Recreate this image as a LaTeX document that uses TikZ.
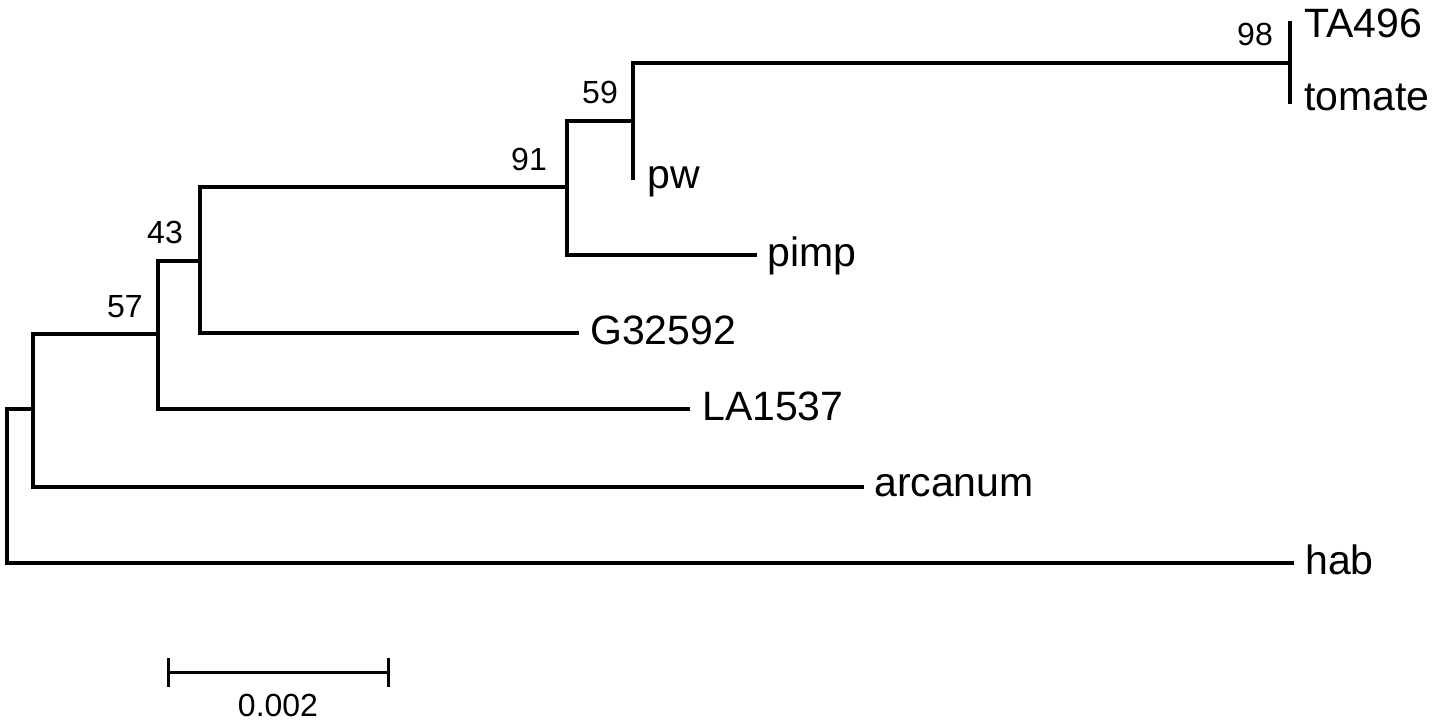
\documentclass[tikz,border=0pt]{standalone}
\usepackage{fontspec}
\setmainfont{Liberation Sans}
\begin{document}
\begin{tikzpicture}[x=1pt,y=-1pt,
  branch/.style={line width=3.6pt,line join=miter,line cap=rect},
  leaf/.style={anchor=base west,inner sep=0pt,font=\fontsize{41}{41}\selectfont},
  boot/.style={anchor=base east,inner sep=0pt,font=\fontsize{32}{32}\selectfont},
  scalelbl/.style={anchor=base,inner sep=0pt,font=\fontsize{32}{32}\selectfont}]
\useasboundingbox (0,0) rectangle (1437,726);
% branch tips / leaf ends
\coordinate (r) at (7,480);
\coordinate (n1) at (33,409);
\coordinate (n57) at (158,334);
\coordinate (n43) at (200,261);
\coordinate (n91) at (567,187);
\coordinate (n59) at (633,121);
\coordinate (n98) at (1290,63);
\coordinate (ta) at (1290,23);
\coordinate (tom) at (1290,102);
\coordinate (pwe) at (633,178);
\coordinate (pimpe) at (755,255);
\coordinate (ge) at (577,333);
\coordinate (lae) at (688,409);
\coordinate (arce) at (862,487);
\coordinate (habe) at (1292,563);
% tree
\draw[branch] (ta) -- (tom);
\draw[branch] (n98) -| (n59) |- (pwe);
\draw[branch] (n59) -| (n91) |- (pimpe);
\draw[branch] (n91) -| (n43) |- (ge);
\draw[branch] (n43) -| (n57) |- (lae);
\draw[branch] (n57) -| (n1) |- (arce);
\draw[branch] (n1) -| (r) |- (habe);
% leaf labels
\node[leaf] (lTA) at (1304,37) {TA496};
\node[leaf] (lTom) at (1304,110) {tomate};
\node[leaf] (lpw) at (647,188) {pw};
\node[leaf] (lpimp) at (767,266) {pimp};
\node[leaf] (lg) at (590,344) {G32592};
\node[leaf] (lla) at (702,420) {LA1537};
\node[leaf] (larc) at (874,496) {arcanum};
\node[leaf] (lhab) at (1305,574) {hab};
% bootstrap values
\node[boot] (b98) at (1273,45) {98};
\node[boot] (b59) at (618,103) {59};
\node[boot] (b91) at (547,170) {91};
\node[boot] (b43) at (183,243) {43};
\node[boot] (b57) at (143,317) {57};
% scale bar
\coordinate (sa) at (168,672);
\coordinate (sb) at (388,672);
\draw[line width=3pt] (sa) -- (sb);
\draw[line width=3pt] ([yshift=-15pt]sa) -- ([yshift=14pt]sa);
\draw[line width=3pt] ([yshift=-15pt]sb) -- ([yshift=14pt]sb);
\node[scalelbl] (sl) at (278,716) {0.002};
\end{tikzpicture}
\end{document}
